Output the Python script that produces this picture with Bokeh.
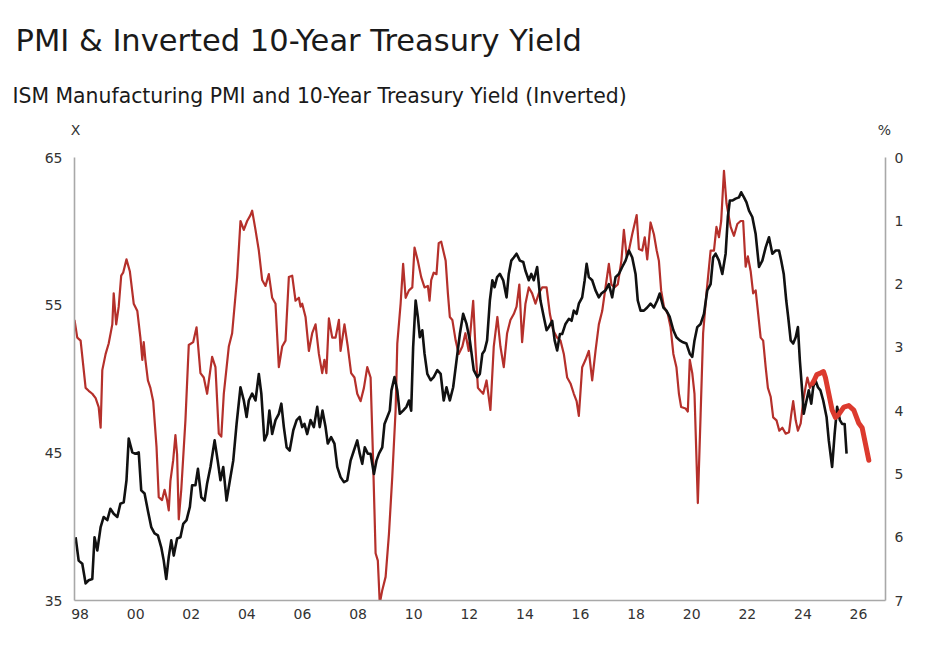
from bokeh.plotting import figure
from bokeh.models import Range1d, LinearAxis, FixedTicker, Title
from bokeh.embed import file_html
from bokeh.resources import INLINE

# ---------------- data ----------------
pmi_dates = [1997.80, 1997.90, 1998.02, 1998.20, 1998.31, 1998.44, 1998.56, 1998.67, 1998.74, 1998.80,
             1998.92, 1999.03, 1999.16, 1999.21, 1999.30, 1999.39, 1999.48, 1999.55, 1999.67, 1999.79,
             1999.93, 2000.06, 2000.17, 2000.24, 2000.29, 2000.35, 2000.44, 2000.53, 2000.63, 2000.75,
             2000.83, 2000.95, 2001.04, 2001.13, 2001.19, 2001.25, 2001.35, 2001.43, 2001.49, 2001.55,
             2001.64, 2001.79, 2001.91, 2002.07, 2002.19, 2002.33, 2002.45, 2002.57, 2002.75, 2002.87,
             2002.99, 2003.08, 2003.17, 2003.35, 2003.47, 2003.65, 2003.77, 2003.89, 2004.01, 2004.13,
             2004.19, 2004.31, 2004.43, 2004.55, 2004.67, 2004.79, 2004.91, 2005.03, 2005.15, 2005.27,
             2005.39, 2005.51, 2005.63, 2005.75, 2005.87, 2005.93, 2005.99, 2006.11, 2006.23, 2006.35,
             2006.47, 2006.59, 2006.71, 2006.79, 2006.86, 2006.95, 2007.07, 2007.19, 2007.31, 2007.37,
             2007.51, 2007.63, 2007.75, 2007.87, 2007.97, 2008.09, 2008.21, 2008.33, 2008.45, 2008.54,
             2008.63, 2008.71, 2008.78, 2008.87, 2008.99, 2009.11, 2009.23, 2009.35, 2009.41, 2009.53,
             2009.62, 2009.71, 2009.83, 2009.95, 2010.03, 2010.15, 2010.27, 2010.39, 2010.51, 2010.57,
             2010.63, 2010.72, 2010.82, 2010.90, 2010.99, 2011.15, 2011.23, 2011.30, 2011.39, 2011.51,
             2011.62, 2011.75, 2011.86, 2011.98, 2012.14, 2012.22, 2012.31, 2012.40, 2012.50, 2012.62,
             2012.76, 2012.88, 2013.01, 2013.12, 2013.24, 2013.36, 2013.48, 2013.60, 2013.70, 2013.80,
             2013.90, 2014.02, 2014.14, 2014.26, 2014.38, 2014.50, 2014.62, 2014.78, 2014.90, 2015.02,
             2015.16, 2015.28, 2015.40, 2015.52, 2015.64, 2015.76, 2015.86, 2015.94, 2016.06, 2016.18,
             2016.30, 2016.42, 2016.54, 2016.66, 2016.78, 2016.90, 2017.02, 2017.11, 2017.22, 2017.34,
             2017.47, 2017.56, 2017.66, 2017.74, 2017.86, 2018.02, 2018.10, 2018.22, 2018.31, 2018.40,
             2018.52, 2018.64, 2018.74, 2018.82, 2018.90, 2019.00, 2019.14, 2019.24, 2019.34, 2019.45,
             2019.54, 2019.62, 2019.78, 2019.86, 2019.93, 2020.02, 2020.10, 2020.22, 2020.32, 2020.41,
             2020.53, 2020.68, 2020.80, 2020.89, 2020.98, 2021.06, 2021.16, 2021.25, 2021.40, 2021.52,
             2021.64, 2021.76, 2021.85, 2021.94, 2022.02, 2022.12, 2022.21, 2022.30, 2022.38, 2022.48,
             2022.57, 2022.66, 2022.74, 2022.84, 2022.93, 2023.05, 2023.15, 2023.26, 2023.38, 2023.50,
             2023.58, 2023.65, 2023.74, 2023.82, 2023.92, 2024.01, 2024.09, 2024.16, 2024.25, 2024.34]
pmi_values = [54.0, 52.8, 52.6, 49.4, 49.2, 49.0, 48.7, 48.1, 46.7, 50.6,
              51.7, 52.4, 53.7, 55.8, 53.7, 54.9, 57.0, 57.2, 58.1, 57.3,
              55.1, 54.6, 52.8, 51.3, 52.5, 51.3, 49.9, 49.4, 48.5, 45.4,
              42.0, 41.8, 42.5, 41.8, 41.1, 43.1, 44.5, 46.2, 44.9, 40.5,
              42.5, 47.2, 52.3, 52.5, 53.5, 50.4, 50.1, 49.0, 51.5, 50.8,
              46.3, 46.1, 49.0, 52.2, 53.1, 56.9, 60.7, 60.1, 60.7, 61.1,
              61.4, 60.1, 58.7, 56.7, 56.3, 57.1, 55.5, 55.1, 50.8, 52.2,
              52.6, 56.9, 57.0, 55.3, 55.5, 54.9, 55.1, 54.2, 51.9, 53.1,
              53.7, 51.7, 50.4, 51.3, 50.4, 54.1, 52.8, 52.8, 54.0, 51.9,
              53.7, 52.2, 50.4, 50.1, 49.0, 48.5, 49.4, 50.8, 50.1, 44.5,
              38.2, 37.7, 34.8, 35.7, 36.6, 39.5, 43.4, 47.9, 52.4, 55.1,
              57.8, 55.5, 56.0, 56.2, 58.9, 58.0, 56.9, 56.2, 56.3, 55.3,
              56.7, 57.2, 57.1, 59.2, 59.3, 58.0, 55.8, 54.2, 54.0, 52.6,
              51.7, 52.2, 53.1, 51.9, 55.3, 52.2, 49.4, 49.2, 49.0, 49.9,
              47.9, 52.2, 54.2, 52.2, 50.8, 53.1, 54.0, 54.4, 54.9, 56.4,
              52.5, 55.1, 56.2, 55.8, 55.1, 55.8, 56.2, 56.2, 54.4, 53.3,
              52.8, 52.6, 51.7, 50.1, 49.7, 49.0, 48.5, 47.5, 50.8, 51.3,
              51.9, 49.9, 51.9, 53.7, 54.6, 56.2, 57.8, 56.4, 56.2, 56.4,
              58.0, 60.1, 58.3, 58.7, 59.8, 61.1, 58.8, 58.7, 59.6, 58.1,
              60.6, 59.8, 58.7, 58.0, 56.0, 54.9, 54.4, 53.5, 51.7, 50.8,
              49.0, 48.1, 48.0, 47.8, 51.3, 50.4, 49.0, 41.6, 47.6, 53.1,
              55.8, 58.7, 58.7, 60.3, 59.6, 60.7, 64.1, 61.9, 60.3, 59.7,
              60.5, 60.7, 60.7, 57.6, 58.3, 57.3, 55.8, 56.0, 54.6, 52.8,
              52.6, 50.8, 49.4, 48.8, 47.4, 47.2, 46.5, 46.7, 46.3, 46.4,
              47.6, 48.5, 47.2, 46.5, 47.0, 48.5, 49.4, 50.1, 49.4, 49.7]

outlook_dates = [2024.34, 2024.40, 2024.50, 2024.63, 2024.74, 2024.81, 2024.93, 2025.05, 2025.17,
                 2025.29, 2025.47, 2025.65, 2025.83, 2026.01, 2026.13, 2026.25, 2026.37]
outlook_values = [49.7, 49.9, 50.3, 50.4, 50.5, 50.1, 49.0, 47.9, 47.4,
                  47.6, 48.1, 48.2, 47.9, 47.0, 46.7, 45.6, 44.5]

yield_dates = [1997.84, 1997.95, 1998.08, 1998.20, 1998.31, 1998.44, 1998.52, 1998.62, 1998.74, 1998.85,
               1998.98, 1999.09, 1999.21, 1999.34, 1999.45, 1999.57, 1999.67, 1999.75, 1999.88, 1999.99,
               2000.11, 2000.20, 2000.32, 2000.44, 2000.56, 2000.68, 2000.80, 2000.92, 2001.01, 2001.10,
               2001.19, 2001.28, 2001.37, 2001.49, 2001.61, 2001.71, 2001.83, 2001.95, 2002.03, 2002.15,
               2002.24, 2002.36, 2002.48, 2002.57, 2002.69, 2002.84, 2002.95, 2003.05, 2003.15, 2003.27,
               2003.39, 2003.51, 2003.63, 2003.77, 2003.89, 2003.99, 2004.07, 2004.19, 2004.31, 2004.43,
               2004.52, 2004.63, 2004.73, 2004.81, 2004.91, 2005.03, 2005.15, 2005.24, 2005.33, 2005.43,
               2005.54, 2005.67, 2005.79, 2005.90, 2005.99, 2006.07, 2006.17, 2006.29, 2006.41, 2006.53,
               2006.62, 2006.72, 2006.83, 2006.91, 2007.03, 2007.15, 2007.25, 2007.37, 2007.49, 2007.61,
               2007.73, 2007.85, 2007.97, 2008.06, 2008.15, 2008.24, 2008.35, 2008.45, 2008.57, 2008.66,
               2008.75, 2008.87, 2008.95, 2009.05, 2009.14, 2009.20, 2009.31, 2009.41, 2009.50, 2009.62,
               2009.74, 2009.83, 2009.91, 2009.98, 2010.07, 2010.15, 2010.22, 2010.31, 2010.39, 2010.49,
               2010.61, 2010.72, 2010.85, 2010.97, 2011.08, 2011.18, 2011.30, 2011.42, 2011.54, 2011.66,
               2011.78, 2011.90, 2012.02, 2012.16, 2012.29, 2012.38, 2012.47, 2012.55, 2012.64, 2012.74,
               2012.83, 2012.91, 2013.00, 2013.10, 2013.22, 2013.34, 2013.42, 2013.51, 2013.60, 2013.70,
               2013.82, 2013.94, 2014.02, 2014.14, 2014.23, 2014.32, 2014.44, 2014.56, 2014.68, 2014.78,
               2014.86, 2014.98, 2015.07, 2015.16, 2015.26, 2015.34, 2015.46, 2015.58, 2015.68, 2015.76,
               2015.86, 2015.94, 2016.06, 2016.15, 2016.22, 2016.30, 2016.42, 2016.54, 2016.66, 2016.75,
               2016.90, 2017.02, 2017.14, 2017.26, 2017.38, 2017.50, 2017.62, 2017.74, 2017.86, 2017.98,
               2018.06, 2018.16, 2018.28, 2018.40, 2018.52, 2018.64, 2018.76, 2018.85, 2018.98, 2019.09,
               2019.21, 2019.34, 2019.45, 2019.57, 2019.69, 2019.81, 2019.93, 2020.02, 2020.10, 2020.20,
               2020.32, 2020.44, 2020.56, 2020.68, 2020.77, 2020.86, 2020.98, 2021.10, 2021.22, 2021.30,
               2021.37, 2021.46, 2021.58, 2021.70, 2021.78, 2021.88, 2021.97, 2022.06, 2022.18, 2022.30,
               2022.42, 2022.54, 2022.66, 2022.78, 2022.90, 2023.02, 2023.14, 2023.22, 2023.31, 2023.40,
               2023.47, 2023.56, 2023.65, 2023.74, 2023.82, 2023.89, 2023.98, 2024.03, 2024.13, 2024.21,
               2024.30, 2024.37, 2024.45, 2024.54, 2024.63, 2024.73, 2024.85, 2024.93, 2025.05, 2025.14,
               2025.23, 2025.33, 2025.41, 2025.50, 2025.57]
yield_values = [6.00, 6.37, 6.42, 6.73, 6.68, 6.66, 6.00, 6.21, 5.84, 5.68,
                5.73, 5.55, 5.63, 5.68, 5.47, 5.45, 5.10, 4.44, 4.66, 4.68,
                4.66, 5.26, 5.31, 5.58, 5.84, 5.94, 5.97, 6.16, 6.37, 6.66,
                6.31, 6.05, 6.29, 6.02, 6.00, 5.79, 5.73, 5.52, 5.18, 5.18,
                4.92, 5.37, 5.42, 5.15, 4.89, 4.47, 4.79, 5.10, 4.89, 5.42,
                5.10, 4.79, 4.21, 3.63, 3.84, 4.10, 3.84, 3.73, 3.84, 3.42,
                3.73, 4.47, 4.37, 4.00, 4.37, 4.15, 4.05, 3.89, 4.26, 4.58,
                4.63, 4.31, 4.15, 4.10, 4.26, 4.21, 4.37, 4.15, 4.26, 3.94,
                4.26, 4.00, 4.26, 4.52, 4.42, 4.52, 4.89, 5.05, 5.13, 5.10,
                4.79, 4.63, 4.47, 4.68, 4.84, 4.58, 4.68, 4.68, 5.00, 4.79,
                4.68, 4.58, 4.21, 4.10, 4.00, 3.68, 3.47, 3.68, 4.05, 4.00,
                3.94, 3.84, 4.00, 3.00, 2.26, 2.52, 2.84, 2.73, 3.10, 3.42,
                3.52, 3.47, 3.36, 3.42, 3.84, 3.63, 3.84, 3.63, 3.21, 2.79,
                2.47, 2.63, 2.89, 3.36, 3.47, 3.42, 3.10, 3.05, 2.89, 2.26,
                1.94, 2.05, 1.89, 1.84, 1.94, 2.21, 1.84, 1.63, 1.58, 1.52,
                1.63, 1.65, 1.79, 1.94, 1.84, 1.94, 1.73, 2.26, 2.52, 2.73,
                2.68, 2.58, 2.89, 3.05, 2.79, 2.79, 2.63, 2.55, 2.58, 2.42,
                2.47, 2.31, 2.21, 1.94, 1.68, 1.89, 1.94, 2.10, 2.21, 2.15,
                2.10, 2.00, 2.21, 1.89, 1.84, 1.73, 1.63, 1.47, 1.58, 1.84,
                2.26, 2.42, 2.42, 2.37, 2.31, 2.37, 2.26, 2.15, 2.37, 2.42,
                2.52, 2.73, 2.84, 2.89, 2.92, 2.94, 3.10, 3.15, 2.89, 2.68,
                2.63, 2.47, 2.10, 2.00, 1.58, 1.52, 1.63, 1.84, 1.52, 0.94,
                0.68, 0.68, 0.65, 0.63, 0.55, 0.63, 0.71, 0.84, 0.94, 1.21,
                1.73, 1.63, 1.42, 1.26, 1.52, 1.47, 1.47, 1.63, 1.84, 2.26,
                2.52, 2.89, 2.94, 2.84, 2.68, 3.21, 3.73, 4.05, 3.84, 3.68,
                3.89, 3.63, 3.52, 3.63, 3.68, 3.84, 4.10, 4.47, 4.89, 4.37,
                3.94, 4.15, 4.21, 4.21, 4.68]

year_ticks = [1998, 2000, 2002, 2004, 2006, 2008, 2010, 2012, 2014, 2016, 2018, 2020, 2022, 2024, 2026]
year_labels = ["98", "00", "02", "04", "06", "08", "10", "12", "14", "16", "18", "20", "22", "24", "26"]
pmi_ticks = [35, 45, 55, 65]
yield_ticks = [0, 1, 2, 3, 4, 5, 6, 7]

title_text = "PMI & Inverted 10-Year Treasury Yield"
subtitle_text = "ISM Manufacturing PMI and 10-Year Treasury Yield (Inverted)"
left_unit = "X"
right_unit = "%"

# ---------------- styling ----------------
TITLE_FONT = "DejaVu Sans"
FONT = "DejaVu Sans"
RED = "#b5302b"
RED_BRIGHT = "#dc3a2e"
BLACK = "#111111"
AXIS_GREY = "#a8a8a8"
LABEL_GREY = "#333333"

p = figure(width=920, height=634,
           x_range=Range1d(1997.8, 2026.97), y_range=Range1d(35, 65),
           output_backend="svg", toolbar_location=None, title_location=None,
           min_border_left=74, min_border_right=35, min_border_top=157, min_border_bottom=34,
           background_fill_color="white", border_fill_color="white")
p.outline_line_color = None
p.xgrid.visible = False
p.ygrid.visible = False
p.extra_y_ranges = {"yield": Range1d(7, 0)}
# helper range spanning the frame width, used to place the unit captions above the axes
p.extra_x_ranges = {"units": Range1d(0, 811)}

p.line(pmi_dates, pmi_values, line_color=RED, line_width=2.2, line_join="round")
p.line(yield_dates, yield_values, y_range_name="yield", line_color=BLACK, line_width=2.6,
       line_join="round")
p.line(outlook_dates, outlook_values, line_color=RED_BRIGHT, line_width=5, line_join="round",
       line_cap="round")

right_axis = LinearAxis(y_range_name="yield")
p.add_layout(right_axis, "right")


def style_axis(ax, standoff):
    ax.axis_line_color = AXIS_GREY
    ax.axis_line_width = 1.6
    ax.major_tick_line_color = None
    ax.minor_tick_line_color = None
    ax.major_tick_out = 0
    ax.major_tick_in = 0
    ax.major_label_standoff = standoff
    ax.major_label_text_font = FONT
    ax.major_label_text_font_size = "14px"
    ax.major_label_text_color = LABEL_GREY


p.xaxis.ticker = FixedTicker(ticks=year_ticks)
p.xaxis.major_label_overrides = {t: l for t, l in zip(year_ticks, year_labels)}
style_axis(p.xaxis[0], 8)
p.yaxis[0].ticker = FixedTicker(ticks=pmi_ticks)
style_axis(p.yaxis[0], 12)
right_axis.ticker = FixedTicker(ticks=yield_ticks)
style_axis(right_axis, 9)

# unit captions ("X" over the left axis, "%" over the right axis)
unit_axis = LinearAxis(x_range_name="units", ticker=FixedTicker(ticks=[1, 810]),
                       major_label_overrides={1: left_unit, 810: right_unit})
style_axis(unit_axis, 20)
unit_axis.axis_line_color = None
p.add_layout(unit_axis, "above")

# subtitle and title (stacked above the unit captions)
p.add_layout(Title(text=subtitle_text, align="left", offset=-62, standoff=22,
                   text_font=TITLE_FONT, text_font_size="20.4px", text_font_style="normal",
                   text_color="#1a1a1a"), "above")
p.add_layout(Title(text=title_text, align="left", offset=-59, standoff=26,
                   text_font=TITLE_FONT, text_font_size="30.5px", text_font_style="normal",
                   text_color="#1a1a1a"), "above")

open("out.html", "w").write(file_html(p, INLINE))
